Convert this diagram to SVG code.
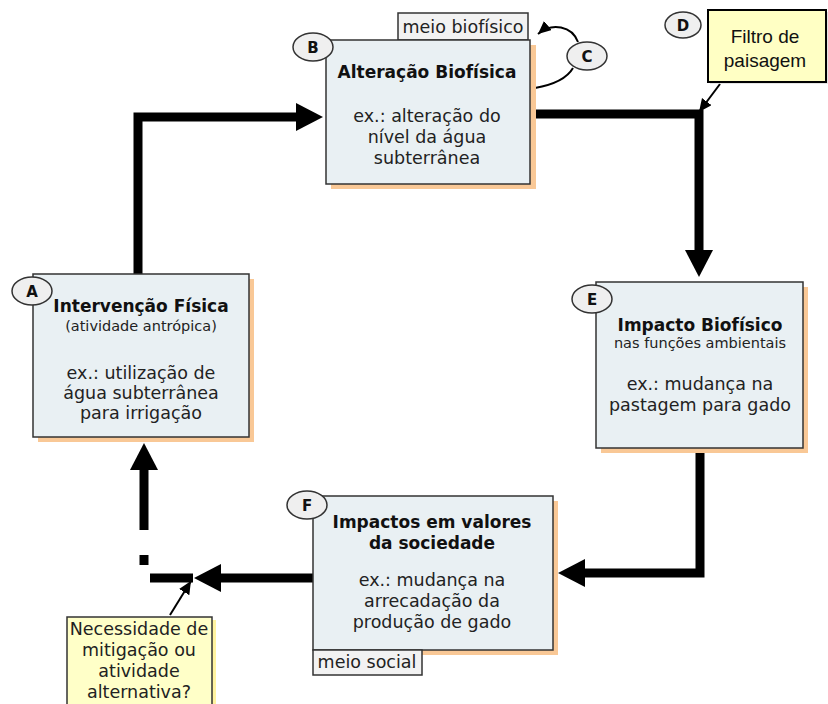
<svg xmlns="http://www.w3.org/2000/svg" width="828" height="704" viewBox="0 0 828 704">
<style>
.box{fill:#e9f0f3;stroke:#333;stroke-width:1.5}
.shadow{fill:#f9c896}
.tab{fill:#f2f2f2;stroke:#333;stroke-width:1.5}
.note{fill:#ffffc8;stroke:#333;stroke-width:1.5}
.lbl{fill:#efefef;stroke:#333;stroke-width:1.5}
.t{font-family:"DejaVu Sans",Verdana,sans-serif;font-size:17.5px;fill:#222;text-anchor:middle}
.b{font-size:17px;font-weight:bold;fill:#111}
.s{font-size:14.5px}
.L{font-family:"DejaVu Sans",Verdana,sans-serif;font-size:15px;font-weight:bold;fill:#111;text-anchor:middle}
.thick{fill:none;stroke:#000;stroke-width:9}
.thin{fill:none;stroke:#000;stroke-width:2}
.c{font-family:"Liberation Sans",Arial,sans-serif;font-size:19px;fill:#111;text-anchor:middle}
</style>
<defs>
<marker id="big" markerUnits="userSpaceOnUse" markerWidth="30" markerHeight="30" refX="0" refY="14" orient="auto">
<path d="M0,0 L27,14 L0,28 z" fill="#000"/>
</marker>
<marker id="small" markerUnits="userSpaceOnUse" markerWidth="16" markerHeight="14" refX="13" refY="6" orient="auto">
<path d="M0,0 L13,6 L0,12 z" fill="#000"/>
</marker>
</defs>

<g id="connectors">
<path class="thick" d="M138,274 V117 H296" marker-end="url(#big)"/>
<path class="thick" d="M535,114 H699 V250" marker-end="url(#big)"/>
<path class="thick" d="M700,452 V573 H585" marker-end="url(#big)"/>
<path class="thick" d="M313,578 H221" marker-end="url(#big)"/>
<path class="thick" d="M193,578 H150"/>
<path class="thick" d="M144,565 V555"/>
<path class="thick" d="M144,530 V470" marker-end="url(#big)"/>
<path class="thin" d="M720,84 L699,112" marker-end="url(#small)"/>
<path class="thin" d="M170,615 L191,581" marker-end="url(#small)"/>
<path class="thin" d="M578,42 C572,26 552,22 538,34" marker-end="url(#small)"/>
<path class="thin" d="M573,68 C566,80 552,85 535,88"/>
</g>

<g id="nodeB">
<rect class="tab" x="398" y="13" width="130" height="27"/>
<text class="t" x="463" y="33">meio biofísico</text>
<rect class="shadow" x="331" y="45" width="205" height="144"/>
<rect class="box" x="326" y="40" width="204" height="144"/>
<text class="t b" x="427" y="78">Alteração Biofísica</text>
<text class="t" x="427" y="122">ex.: alteração do</text>
<text class="t" x="427" y="143">nível da água</text>
<text class="t" x="427" y="164">subterrânea</text>
<ellipse class="lbl" cx="313" cy="47" rx="20" ry="14"/>
<text class="L" x="313" y="53">B</text>
</g>

<g id="nodeC">
<ellipse class="lbl" cx="587" cy="56" rx="20" ry="14"/>
<text class="L" x="587" y="62">C</text>
</g>

<g id="nodeD">
<ellipse class="lbl" cx="683" cy="25" rx="18" ry="13"/>
<text class="L" x="683" y="31">D</text>
<rect x="710" y="12" width="118" height="72" fill="#ccc" opacity="0.5"/>
<rect x="708" y="10" width="118" height="72" fill="#ffffc4" stroke="#000" stroke-width="2"/>
<text class="c" x="765" y="43">Filtro de</text>
<text class="c" x="765" y="67">paisagem</text>
</g>

<g id="nodeA">
<rect class="shadow" x="38" y="279" width="216" height="163"/>
<rect class="box" x="33" y="274" width="216" height="163"/>
<text class="t b" x="141" y="312">Intervenção Física</text>
<text class="t s" x="141" y="331">(atividade antrópica)</text>
<text class="t" x="141" y="379">ex.: utilização de</text>
<text class="t" x="141" y="399">água subterrânea</text>
<text class="t" x="141" y="419">para irrigação</text>
<ellipse class="lbl" cx="32" cy="291" rx="20" ry="14"/>
<text class="L" x="32" y="297">A</text>
</g>

<g id="nodeE">
<rect class="shadow" x="601" y="287" width="207" height="166"/>
<rect class="box" x="596" y="282" width="207" height="166"/>
<text class="t b" x="700" y="331">Impacto Biofísico</text>
<text class="t s" x="700" y="348">nas funções ambientais</text>
<text class="t" x="700" y="390">ex.: mudança na</text>
<text class="t" x="700" y="411">pastagem para gado</text>
<ellipse class="lbl" cx="592" cy="299" rx="20" ry="14"/>
<text class="L" x="592" y="305">E</text>
</g>

<g id="nodeF">
<rect class="shadow" x="318" y="501" width="240" height="154"/>
<rect class="box" x="313" y="496" width="240" height="154"/>
<rect class="tab" x="313" y="650" width="109" height="25"/>
<text class="t" x="367" y="668">meio social</text>
<text class="t b" x="432" y="528">Impactos em valores</text>
<text class="t b" x="432" y="549">da sociedade</text>
<text class="t" x="432" y="586">ex.: mudança na</text>
<text class="t" x="432" y="607">arrecadação da</text>
<text class="t" x="432" y="628">produção de gado</text>
<ellipse class="lbl" cx="307" cy="505" rx="20" ry="14"/>
<text class="L" x="307" y="511">F</text>
</g>

<g id="nodeNote">
<rect x="212" y="620" width="4" height="84" fill="#fff3a0"/>
<rect class="note" x="67" y="617" width="145" height="90"/>
<text class="t" x="139" y="635">Necessidade de</text>
<text class="t" x="139" y="656">mitigação ou</text>
<text class="t" x="139" y="677">atividade</text>
<text class="t" x="139" y="698">alternativa?</text>
</g>
</svg>
